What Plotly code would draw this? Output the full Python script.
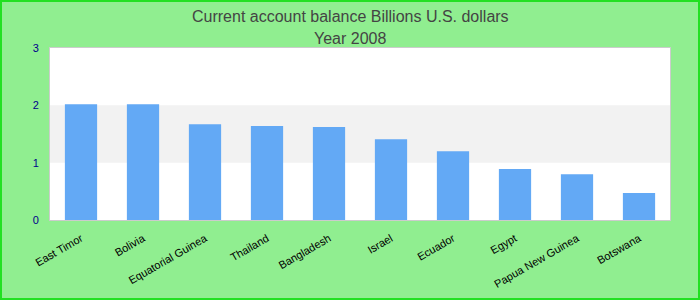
import plotly.graph_objects as go

countries = ["East Timor", "Bolivia", "Equatorial Guinea", "Thailand", "Bangladesh",
             "Israel", "Ecuador", "Egypt", "Papua New Guinea", "Botswana"]
values = [2.02, 2.02, 1.67, 1.64, 1.62, 1.41, 1.20, 0.89, 0.80, 0.47]
y_ticks = [0, 1, 2, 3]
title_lines = ["Current account balance Billions U.S. dollars", "Year 2008"]

W, H = 700, 300
ml, mr, mt, mb = 50, 30, 48, 80
pw, ph = W - ml - mr, H - mt - mb

fig = go.Figure(go.Bar(x=countries, y=values, marker=dict(color="#63a9f5", line=dict(width=0)),
                       hoverinfo="x+y"))

shapes = [
    dict(type="rect", xref="paper", yref="y", x0=0, x1=1, y0=1, y1=2,
         fillcolor="#f2f2f2", line=dict(width=0), layer="below"),
    dict(type="rect", xref="paper", yref="paper",
         x0=-(ml - 1) / pw, x1=1 + (mr - 1) / pw, y0=-(mb - 1) / ph, y1=1 + (mt - 1) / ph,
         line=dict(color="#22e022", width=2), fillcolor="rgba(0,0,0,0)"),
]

annotations = []
for i, (line, ypx) in enumerate(zip(title_lines, [16, 39])):
    annotations.append(dict(text=line, xref="paper", yref="paper", x=0.5 - 10 / pw,
                            y=1 + (mt - ypx) / ph, xanchor="center", yanchor="middle",
                            showarrow=False,
                            font=dict(family="Liberation Sans, Arial", size=16, color="#444444")))

fig.update_layout(
    width=W, height=H,
    margin=dict(l=ml, r=mr, t=mt, b=mb, autoexpand=False),
    paper_bgcolor="#90ee90", plot_bgcolor="white",
    font=dict(family="Liberation Sans, Arial", size=11),
    bargap=0.48,
    showlegend=False,
    shapes=shapes,
    annotations=annotations,
    xaxis=dict(tickangle=-30, tickfont=dict(color="black", size=11), showgrid=False,
               showline=True, linecolor="#cccccc", mirror=True, ticks="", fixedrange=True,
               ticklabelstandoff=7, automargin=False),
    yaxis=dict(range=[0, 3], tickvals=y_ticks, tickfont=dict(color="#00008b", size=11),
               showgrid=False, zeroline=False, showline=True, linecolor="#cccccc",
               mirror=True, ticks="", ticklen=0, fixedrange=True, ticklabelstandoff=8,
               automargin=False),
)

fig.write_html("out.html")
